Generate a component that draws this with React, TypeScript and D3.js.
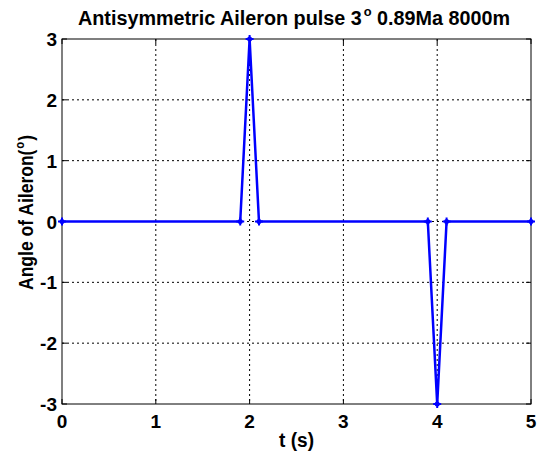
import React from "react";
import * as d3 from "d3";

const times = [0, 1.9, 2, 2.1, 3.9, 4, 4.1, 5];
const angles = [0, 0, 3, 0, 0, -3, 0, 0];
const xTicks = [0, 1, 2, 3, 4, 5];
const yTicks = [-3, -2, -1, 0, 1, 2, 3];

const W = 537, H = 454;
const L = 62, R = 531, T = 39, B = 404;

export default function App() {
  const x = d3.scaleLinear().domain([0, 5]).range([L, R]);
  const y = d3.scaleLinear().domain([-3, 3]).range([B, T]);
  const pts = times.map((t, i) => [x(t), y(angles[i])] as [number, number]);
  const line = d3.line()(pts) || "";
  const font = "Arimo, 'Liberation Sans', Arial, sans-serif";
  return (
    <svg width={W} height={H} style={{ position: "absolute", left: 0, top: 0, background: "#fff" }}>
      <rect x={0} y={0} width={W} height={H} fill="#fff" />
      <rect x={L} y={T} width={R - L} height={B - T} fill="#fff" />
      {xTicks.slice(1, -1).map((t) => (
        <line key={"gx" + t} x1={x(t)} x2={x(t)} y1={T} y2={B} stroke="#000" strokeWidth={1} strokeDasharray="2,3" />
      ))}
      {yTicks.slice(1, -1).map((v) => (
        <line key={"gy" + v} x1={L} x2={R} y1={y(v)} y2={y(v)} stroke="#000" strokeWidth={1} strokeDasharray="2,3" />
      ))}
      {xTicks.map((t) => (
        <g key={"tx" + t}>
          <line x1={x(t)} x2={x(t)} y1={B} y2={B - 5} stroke="#000" />
          <line x1={x(t)} x2={x(t)} y1={T} y2={T + 5} stroke="#000" />
          <text x={x(t)} y={428} textAnchor="middle" fontFamily={font} fontWeight="bold" fontSize={19} fill="#000">{t}</text>
        </g>
      ))}
      {yTicks.map((v) => (
        <g key={"ty" + v}>
          <line x1={L} x2={L + 5} y1={y(v)} y2={y(v)} stroke="#000" />
          <line x1={R} x2={R - 5} y1={y(v)} y2={y(v)} stroke="#000" />
          <text x={L - 5} y={y(v) + 7} textAnchor="end" fontFamily={font} fontWeight="bold" fontSize={19} fill="#000">{v}</text>
        </g>
      ))}
      <rect x={L} y={T} width={R - L} height={B - T} fill="none" stroke="#000" strokeWidth={1} />
      <path d={line} fill="none" stroke="#0000ff" strokeWidth={2.5} />
      {pts.map(([px, py], i) => (
        <g key={"m" + i}>
          <circle cx={px} cy={py} r={2.5} fill="#0000ff" />
          <line x1={px - 4} x2={px + 4} y1={py} y2={py} stroke="#0000ff" strokeWidth={2} />
          <line x1={px} x2={px} y1={py - 4} y2={py + 4} stroke="#0000ff" strokeWidth={2} />
        </g>
      ))}
      <text x={78} y={25} textLength={432} lengthAdjust="spacingAndGlyphs" fontFamily={font} fontWeight="bold" fontSize={20} fill="#000">
        Antisymmetric Aileron pulse 3<tspan dx={2} dy={-9} fontSize={13}>o</tspan><tspan dy={9}> 0.89Ma 8000m</tspan>
      </text>
      <text x={(L + R) / 2} y={447} textAnchor="middle" textLength={35} lengthAdjust="spacingAndGlyphs" fontFamily={font} fontWeight="bold" fontSize={20} fill="#000">t (s)</text>
      <text transform={`translate(33,${(135 + 290) / 2}) rotate(-90)`} textAnchor="middle" textLength={155} lengthAdjust="spacingAndGlyphs" fontFamily={font} fontWeight="bold" fontSize={20} fill="#000">
        Angle of Aileron(<tspan dx={1} dy={-9} fontSize={13}>o</tspan><tspan dx={1} dy={9}>)</tspan>
      </text>
    </svg>
  );
}
